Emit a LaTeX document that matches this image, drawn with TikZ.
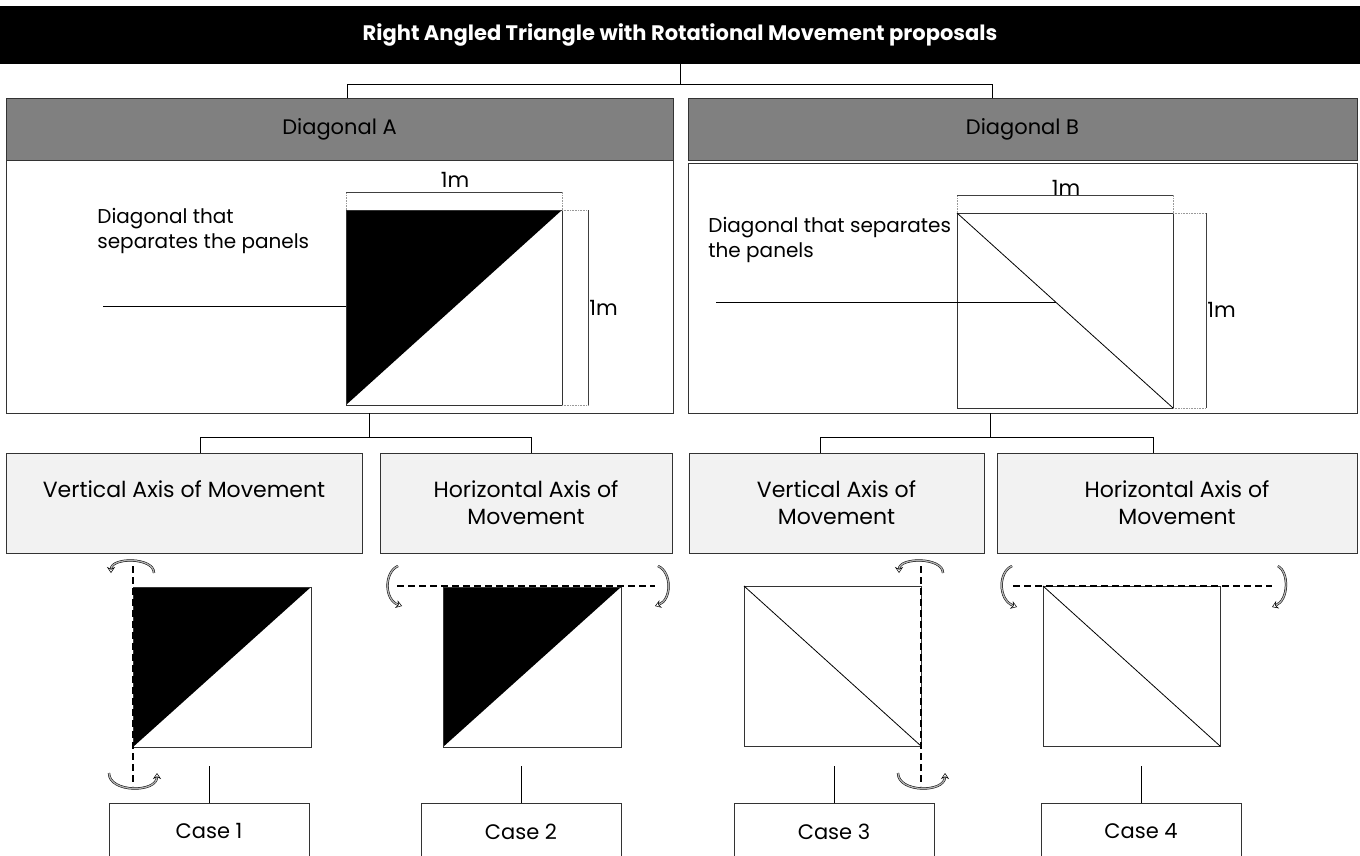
\documentclass[tikz,border=0pt]{standalone}
\usepackage{fontspec}
\setmainfont{Poppins}
\usetikzlibrary{arrows.meta}

\tikzset{
  graybox/.style={draw=black!80, fill=black!50, minimum height=62pt, inner sep=0pt},
  panel/.style={draw=black!80, fill=white, inner sep=0pt},
  axisbox/.style={draw=black!80, fill=black!5, minimum height=100pt, inner sep=0pt, align=center, font=\fontsize{22}{27}\selectfont},
  casebox/.style={draw=black!80, minimum width=200pt, minimum height=56pt, anchor=north},
  note/.style={anchor=west, align=left, inner sep=0pt, font=\fontsize{20}{25}\selectfont},
  dimline/.style={black!75, line width=0.6pt},
  extline/.style={black!40, densely dotted, line width=0.6pt},
  axisline/.style={dash pattern=on 7pt off 4pt, line width=1.2pt},
  rot/.style={line width=0.5pt, double=black!30, double distance=1.3pt, -{Stealth[open,length=6pt,width=8pt]}}
}

\begin{document}
\begin{tikzpicture}[x=1pt, y=-1pt, line width=0.8pt, font=\fontsize{21}{26}\selectfont]
    \useasboundingbox (0,0) rectangle (1360,856);

    % title and the two diagonals
    \node[fill=black, text=white, minimum width=1360pt, minimum height=58pt, inner sep=0pt,
          font=\fontsize{21}{26}\selectfont\bfseries] (title) at (680,35)
          {Right Angled Triangle with Rotational Movement proposals};
    \node[graybox, minimum width=667pt] (diagA) at (339.5,129) {Diagonal A};
    \node[graybox, minimum width=669pt] (diagB) at (1022.5,129) {Diagonal B};
    \draw (title.south) -- ++(0,20) -| ([xshift=7.5pt]diagA.north);
    \draw (title.south) -- ++(0,20) -| ([xshift=-30.5pt]diagB.north);

    \node[panel, minimum width=667pt, minimum height=253pt] (panelA) at (339.5,286.5) {};
    \node[panel, minimum width=669pt, minimum height=250pt] (panelB) at (1022.5,288) {};

    % diagonal A
    \coordinate (a1) at (346,210);
    \coordinate (a2) at (562,210);
    \coordinate (a3) at (562,405);
    \coordinate (a4) at (346,405);
    \fill (a1) -- (a2) -- (a4) -- cycle;
    \draw[black!80] (a1) rectangle (a3);
    \draw[extline] (a1) -- (346,192) (a2) -- (562,192) (a2) -- (588,210) (a3) -- (588,405);
    \draw[dimline] (346,192) -- (562,192);
    \draw[dimline] (588,210) -- (588,405);
    \node (topA) at (455,180) {1m};
    \node[anchor=west, inner sep=1pt] (sideA) at (588,308) {1m};
    \node[note] (noteA) at (97,231) {Diagonal that\\separates the panels};
    \coordinate (leadA) at (103,306);
    \draw (leadA) -- (leadA -| a1);

    % diagonal B
    \coordinate (b1) at (957,213);
    \coordinate (b2) at (1173,213);
    \coordinate (b3) at (1173,408);
    \coordinate (b4) at (957,408);
    \draw[black!80] (b1) rectangle (b3);
    \draw (b1) -- (b3);
    \draw[extline] (b1) -- (957,195) (b2) -- (1173,195) (b2) -- (1206,213) (b3) -- (1206,408);
    \draw[dimline] (957,195) -- (1173,195);
    \draw[dimline] (1206,213) -- (1206,408);
    \node (topB) at (1066,188) {1m};
    \node[anchor=west, inner sep=1pt] (sideB) at (1206,310) {1m};
    \node[note] (noteB) at (708,240) {Diagonal that separates\\the panels};
    \coordinate (leadB) at (716,302);
    \coordinate (leadB2) at (1055.6,302);
    \draw (leadB) -- (leadB2);

    % axes of movement
    \node[axisbox, minimum width=356pt] (vA) at (184,503) {Vertical Axis of Movement\\\mbox{}};
    \node[axisbox, minimum width=292pt] (hA) at (526,503) {Horizontal Axis of\\Movement};
    \node[axisbox, minimum width=295pt] (vB) at (836.5,503) {Vertical Axis of\\Movement};
    \node[axisbox, minimum width=360pt] (hB) at (1177,503) {Horizontal Axis of\\Movement};
    \draw ([xshift=30pt]panelA.south) -- ++(0,24) -| ([xshift=16pt]vA.north);
    \draw ([xshift=30pt]panelA.south) -- ++(0,24) -| ([xshift=5pt]hA.north);
    \draw ([xshift=-32.5pt]panelB.south) -- ++(0,24) -| ([xshift=-16.5pt]vB.north);
    \draw ([xshift=-32.5pt]panelB.south) -- ++(0,24) -| ([xshift=-24pt]hB.north);

    % the four panels in motion
    \foreach \x in {133, 443}
    {
        \fill (\x,587) -- (\x+178,587) -- (\x,747) -- cycle;
        \draw[black!80] (\x,587) rectangle (\x+178,747);
    }
    \foreach \x in {744, 1043}
    {
        \draw[black!80] (\x,586) rectangle (\x+177,746);
        \draw (\x,586) -- (\x+177,746);
    }
    \draw[axisline] (133,566) -- (133,786);
    \draw[axisline] (397,586) -- (655,586);
    \draw[axisline] (921,566) -- (921,786);
    \draw[axisline] (1013,586) -- (1272,586);

    % rotation arrows
    \draw[rot] (154,573) .. controls (154,557) and (111,557) .. (111,573);
    \draw[rot] (109,773) .. controls (109,793) and (157,793) .. (157,773);
    \draw[rot] (398,566) .. controls (384,572) and (384,600) .. (402,606);
    \draw[rot] (658,566) .. controls (672,572) and (672,600) .. (655,606);
    \draw[rot] (943,573) .. controls (943,557) and (899,557) .. (899,573);
    \draw[rot] (898,773) .. controls (898,793) and (945,793) .. (945,773);
    \draw[rot] (1012,566) .. controls (998,572) and (998,600) .. (1017,607);
    \draw[rot] (1278,566) .. controls (1289,572) and (1289,600) .. (1272,607);

    % cases
    \foreach \x/\n in {209/1, 521/2, 834/3, 1141/4}
    {
        \node[casebox] (case\n) at (\x,803) {Case \n};
        \draw (case\n.north) -- ++(0,-37);
    }
\end{tikzpicture}
\end{document}
